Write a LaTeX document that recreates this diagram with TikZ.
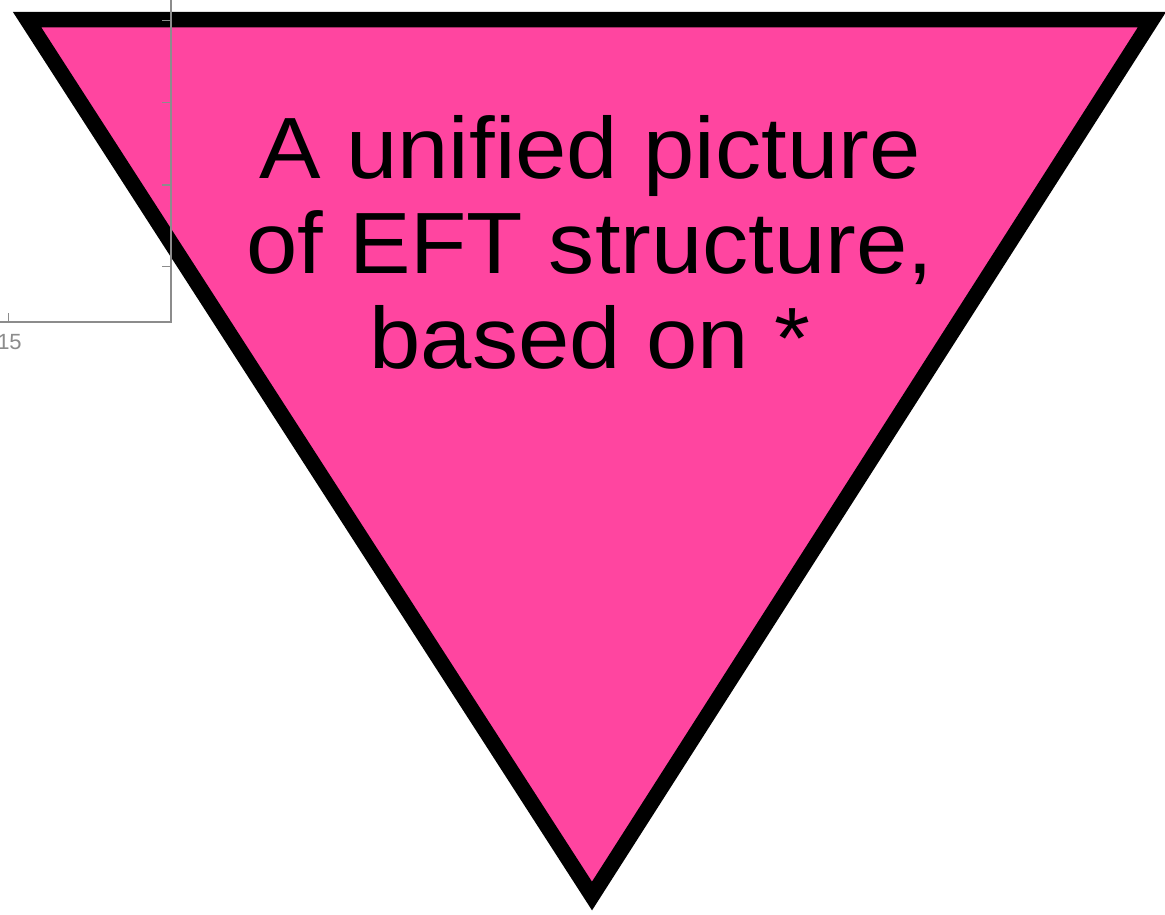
\documentclass[tikz,border=0pt]{standalone}
\usepackage{fontspec}
\setmainfont{Liberation Sans}
\newfontfamily\titlefont[FakeStretch=1.06]{Liberation Sans}
\definecolor{tripink}{RGB}{255,69,160}
\definecolor{axisgray}{RGB}{140,140,140}
\begin{document}
\begin{tikzpicture}[x=1pt,y=-1pt,
  tri/.style={fill=tripink,draw=black,line width=15.5pt,line join=miter,miter limit=10},
  axisline/.style={draw=axisgray,line width=1.3pt},
  ticklabel/.style={text=axisgray,font=\fontsize{22}{24}\selectfont,inner sep=0pt}]
\useasboundingbox (0,0) rectangle (1165,914);
\coordinate (tl) at (27,19.5);
\coordinate (tr) at (1152,19.5);
\coordinate (bt) at (592,896);
\draw[tri] (tl) -- (tr) -- (bt) -- cycle;
% axes
\coordinate (axtop) at (171,0);
\coordinate (axcorner) at (171,322);
\coordinate (axleft) at (0,322);
\draw[axisline] (axtop) -- (axcorner) -- (axleft);
\foreach \yy in {20.5,102.7,185,266.7}{
  \draw[axisline] (162,\yy) -- (171,\yy);
}
\draw[axisline] (8.5,313) -- (8.5,322);
\node[ticklabel] (lab15) at (9.5,342) {15};
\node[align=center,font=\titlefont\fontsize{87}{95}\selectfont,inner sep=0pt] (title) at (590,242)
  {A unified picture\\of EFT structure,\\based on *};
\end{tikzpicture}
\end{document}
